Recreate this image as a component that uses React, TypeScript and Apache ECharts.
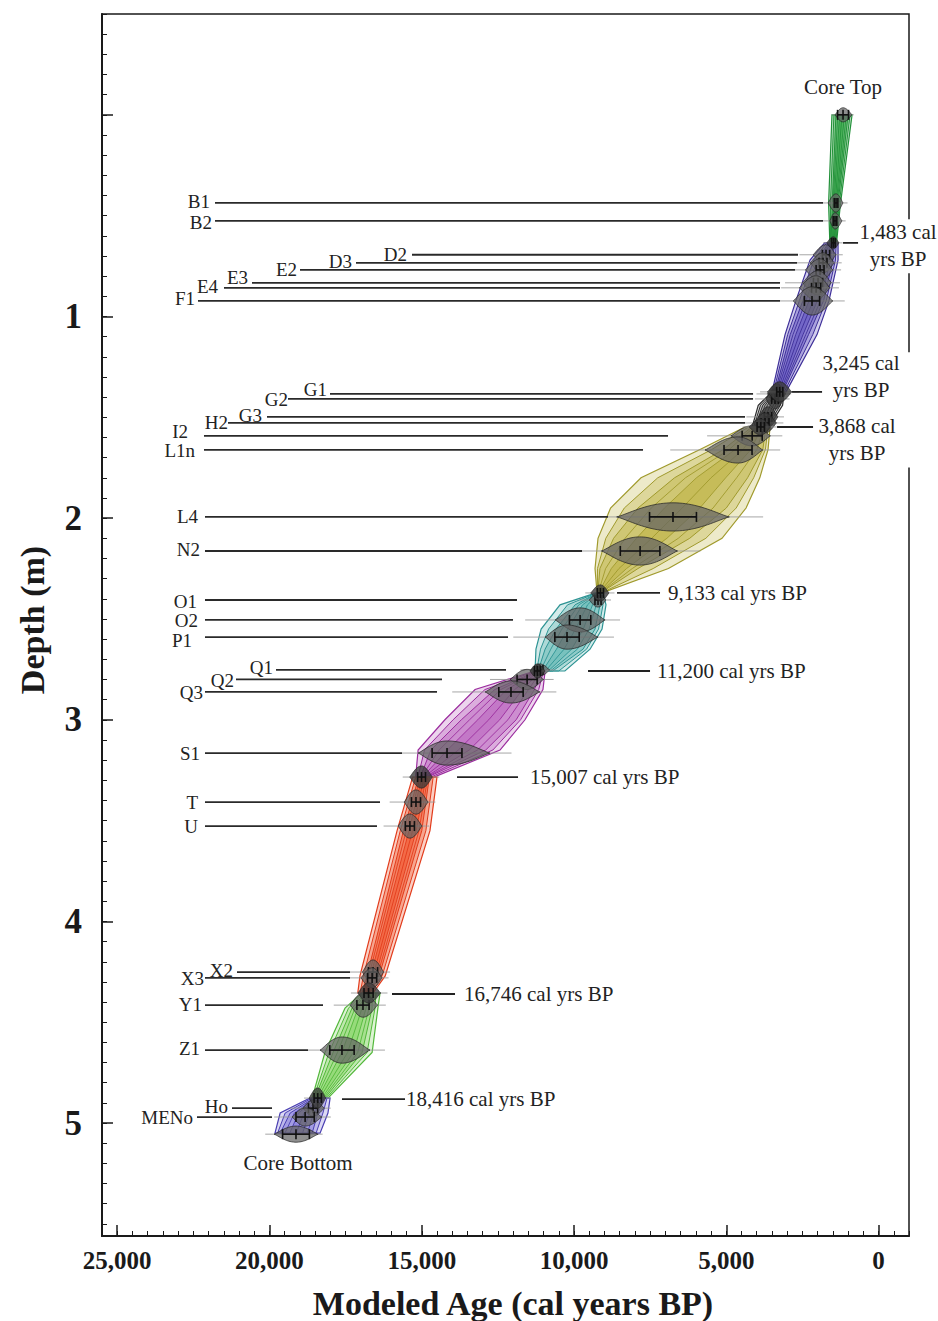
import React, { useEffect, useRef } from "react";
import * as echarts from "echarts";

const FONT = "'Liberation Serif','Times New Roman',serif";

// ---- axis ticks / labels ----
const depthTickValues = [0, 1, 2, 3, 4, 5];
const depthLabelValues = [1, 2, 3, 4, 5];
const ageTickValues = [0, 5000, 10000, 15000, 20000, 25000];

// ---- labelled samples ----
const sampleNames = ["B1","B2","D2","D3","E2","E3","E4","F1","G1","G2","G3","H2","I2","L1n","L4","N2","O1","O2","P1","Q1","Q2","Q3","S1","T","U","X2","X3","Y1","Z1","Ho","MENo"];
const sampleDepth = [0.437,0.526,0.694,0.734,0.769,0.833,0.858,0.923,1.384,1.409,1.498,1.528,1.592,1.662,1.994,2.163,2.406,2.505,2.59,2.753,2.8,2.862,3.165,3.408,3.527,4.251,4.28,4.415,4.638,4.926,4.97];
const sampleAge = [1396,1430,1725,1823,1920,1987,2050,2185,3333,3400,3630,3727,4150,4614,6750,7830,9212,9800,10230,11120,11540,12070,14170,15190,15390,16600,16630,16930,17620,18570,18830];
const sampleErr = [60,60,120,130,130,150,150,250,100,110,120,130,330,460,770,650,100,350,400,100,330,400,490,150,150,150,150,200,400,150,300];
const sampleOld = [1660,1600,2150,2250,2400,2500,2600,2800,3650,3700,3950,4100,4850,5700,8600,9100,9500,10620,10950,11400,12100,12920,15120,15580,15780,16950,17000,17350,18340,18900,19260];
const sampleYoung = [1166,1200,1400,1450,1500,1550,1600,1500,3050,3100,3300,3350,3550,3800,4900,6600,8950,8980,9210,10800,11000,11120,12760,14790,14990,16250,16300,16450,16700,18200,18280];
const sampleSpread = [0.045,0.04,0.05,0.05,0.055,0.06,0.06,0.07,0.05,0.05,0.05,0.05,0.05,0.065,0.07,0.07,0.035,0.06,0.06,0.03,0.05,0.055,0.06,0.06,0.06,0.06,0.05,0.06,0.065,0.04,0.045];
const labelDepth = [0.432,0.536,0.694,0.729,0.769,0.809,0.853,0.913,1.364,1.414,1.493,1.528,1.57,1.665,1.994,2.158,2.411,2.51,2.609,2.743,2.803,2.867,3.165,3.408,3.527,4.241,4.281,4.41,4.628,4.916,4.97];
const labelAge = [21954,21888,15484,17290,19097,20706,21691,22446,18111,19392,20246,21362,22676,22446,22348,22282,22381,22348,22545,19885,21165,22183,22282,22348,22348,21198,22151,22216,22282,21362,22512];
const lineStartAge = [21789,21789,15320,17159,18998,20574,21494,22348,18013,19392,20082,21362,22151,22151,22118,22118,22118,22118,22118,19786,21100,22118,22118,22118,22118,21067,22118,22118,22118,21231,22381];
const lineEndAge = [1823,1823,2644,2676,2742,3235,3235,3235,4121,4121,4384,4384,6913,7734,8883,9737,11872,12003,12167,12233,14335,14499,15648,16371,16470,17356,17356,18243,18735,19917,19917];

// ---- sequence boundaries ----
const boundaryText = ["1,483 cal\nyrs BP","3,245 cal\nyrs BP","3,868 cal\nyrs BP","9,133 cal yrs BP","11,200 cal yrs BP","15,007 cal yrs BP","16,746 cal yrs BP","18,416 cal yrs BP"];
const boundaryAge = [1483,3245,3868,9133,11200,15007,16746,18416];
const boundaryDepth = [0.635,1.374,1.548,2.371,2.758,3.284,4.355,4.876];
const boundaryErr = [60,100,120,100,100,130,150,120];
const boundaryOld = [1700,3650,4250,9450,11450,15400,17100,18700];
const boundaryYoung = [1300,2850,3550,8850,10950,14650,16350,18150];
const boundarySpread = [0.03,0.05,0.04,0.04,0.035,0.055,0.05,0.05];
const leaderDepth = [0.635,1.374,1.548,2.371,2.758,3.284,4.36,4.881];
const leaderFrom = [1166,2841,3333,8588,9540,13842,15977,17620];
const leaderTo = [673,1855,2151,7176,7504,11839,13908,15550];
const boundaryTextAge = [-641,575,706,6913,7274,11445,13613,15517];
const boundaryTextDepth = [0.647,1.297,1.61,2.371,2.758,3.284,4.36,4.881];

// ---- core ends ----
const coreNames = ["Core Top","Core Bottom"];
const coreDepth = [0.0,5.055];
const coreAge = [1166,19130];
const coreErr = [180,440];
const coreOld = [1430,19850];
const coreYoung = [870,18400];
const coreSpread = [0.035,0.04];
const coreLabelAge = [1166,19060];
const coreLabelDepth = [-0.139,5.198];

// ---- age-model envelopes: [depth, oldOuter, oldInner, youngInner, youngOuter] ----
const segCoreTop = [[0.0,1530,1400,1000,870],[0.44,1640,1520,1330,1250],[0.635,1600,1560,1420,1380]];
const segBlueUpper = [[0.635,1770,1650,1450,1330],[0.72,2250,2000,1500,1330],[0.92,2710,2480,1800,1625],[1.09,3070,2900,2300,2020],[1.374,3497,3400,3150,3037]];
const segGrayMid = [[1.374,3500,3400,3200,3100],[1.44,3950,3800,3300,3150],[1.548,4150,4050,3700,3600]];
const segOlive = [[1.548,4385,4154,3694,3563],[1.66,5862,5100,3800,3629],[1.8,7800,6700,4300,3900],[1.95,8800,7900,5000,4350],[2.1,9212,8700,6200,5140],[2.25,9310,9150,7900,6900],[2.371,9244,9220,9130,9080]];
const segTeal = [[2.371,9277,9230,9100,9047],[2.43,10460,9966,9146,8950],[2.55,11080,10590,9310,9080],[2.65,11250,10950,9704,9474],[2.758,11280,11180,10700,10300]];
const segPurple = [[2.758,11280,11210,11050,10950],[2.85,13250,12600,11300,11020],[3.0,14240,13700,11900,11610],[3.15,15120,14700,12900,12430],[3.284,15200,15050,14800,14600]];
const segRed = [[3.284,15300,15100,14750,14500],[3.55,15810,15600,15000,14730],[4.27,17030,16800,16400,16200],[4.355,17100,16950,16700,16600]];
const segGreenLower = [[4.355,16960,16860,16630,16370],[4.43,17520,17290,16630,16440],[4.65,18180,17910,16960,16630],[4.876,18600,18510,18180,18080]];
const segBlueLower = [[4.876,18670,18540,18210,18010],[4.95,19650,19320,18410,18080],[5.05,19820,19650,18600,18340]];

const segments = [segCoreTop, segBlueUpper, segGrayMid, segOlive, segTeal, segPurple, segRed, segGreenLower, segBlueLower];
const segStroke = ["#23913a","#3e2f99","#2b2b2b","#a09a2c","#2e9494","#9b2c9e","#e23c1c","#52b83a","#4a3fb2"];
const segFill = ["#3fae4f","#6a5cc4","#8a8a8a","#c2b84e","#6fbdb9","#bf6fc3","#f2603a","#8fd870","#8a82dc"];

const rgba = (hex: string, a: number) => {
  const n = parseInt(hex.slice(1), 16);
  return `rgba(${(n >> 16) & 255},${(n >> 8) & 255},${n & 255},${a})`;
};

const txt = (x: number, y: number, text: string, size: number, align: string, extra: any = {}) => ({
  type: "text",
  x,
  y,
  style: {
    text,
    fill: "#222",
    fontSize: size,
    fontFamily: FONT,
    align,
    textAlign: align,
    verticalAlign: "middle",
    textVerticalAlign: "middle",
    ...extra,
  },
});

const seg = (p: number[], q: number[], stroke: string, w: number) => ({
  type: "line",
  shape: { x1: p[0], y1: p[1], x2: q[0], y2: q[1] },
  style: { stroke, lineWidth: w },
});

function violin(api: any, depth: number, age: number, err: number, old: number, young: number, hh: number, tailOld: number, tailYoung: number, dark: boolean) {
  const P = (a: number, d: number) => api.coord([a, d]);
  const out: any[] = [];
  out.push(seg(P(tailOld, depth), P(tailYoung, depth), "rgba(150,150,150,0.85)", 1));
  const N = 36;
  const top: number[][] = [];
  const bot: number[][] = [];
  for (let k = 0; k <= N; k++) {
    const a = old + ((young - old) * k) / N;
    const u = a >= age ? (a - age) / Math.max(1, old - age) : (age - a) / Math.max(1, age - young);
    const h = hh * Math.pow(Math.max(0, 1 - u * u), 1.25);
    top.push(P(a, depth - h));
    bot.push(P(a, depth + h));
  }
  out.push({
    type: "polygon",
    shape: { points: top.concat(bot.reverse()) },
    style: { fill: dark ? "rgba(60,60,60,0.8)" : "rgba(100,100,100,0.72)", stroke: "rgba(35,35,35,0.9)", lineWidth: 0.8 },
  });
  const e1 = P(age + err, depth);
  const e2 = P(age - err, depth);
  const c = P(age, depth);
  out.push(seg(e1, e2, "#111", 1.6));
  [e1, e2, c].forEach((p) => out.push(seg([p[0], p[1] - 5], [p[0], p[1] + 5], "#111", 1.6)));
  return out;
}

// white masks behind the two-line boundary labels (they interrupt the frame)
function maskRect(i: number, t: number[]) {
  if (i === 0) return { x: t[0] - 42, y: t[1] - 26, width: 86, height: 54 };
  if (i === 1) return { x: t[0] - 45, y: t[1] - 24, width: 96, height: 60 };
  if (i === 2) return { x: t[0] - 45, y: t[1] - 28, width: 100, height: 56 };
  return null;
}

function buildOption() {
  const axisColor = "#1a1a1a";
  return {
    animation: false,
    backgroundColor: "#ffffff",
    grid: { left: 102, right: 29, top: 14, bottom: 85, show: true, borderColor: axisColor, borderWidth: 1.5 },
    xAxis: [
      {
        type: "value", min: -1000, max: 25500, interval: 500, inverse: true, position: "bottom",
        axisLine: { show: true, onZero: false, lineStyle: { color: axisColor, width: 2 } },
        axisTick: { show: true, inside: true, length: 5, lineStyle: { color: axisColor, width: 1 } },
        axisLabel: { show: false }, splitLine: { show: false },
      },
      {
        type: "value", min: -1000, max: 25500, inverse: true, position: "bottom",
        axisLine: { show: false, onZero: false },
        axisTick: { show: true, inside: true, length: 11, customValues: ageTickValues, lineStyle: { color: axisColor, width: 1.5 } },
        axisLabel: {
          show: true, customValues: ageTickValues, margin: 12, fontSize: 25, fontWeight: "bold", fontFamily: FONT, color: axisColor,
          formatter: (v: number) => String(v).replace(/\B(?=(\d{3})+(?!\d))/g, ","),
        },
        splitLine: { show: false },
      },
    ],
    yAxis: [
      {
        type: "value", min: -0.5, max: 5.56, interval: 0.1, inverse: true, position: "left",
        axisLine: { show: true, onZero: false, lineStyle: { color: axisColor, width: 2 } },
        axisTick: { show: true, inside: true, length: 5, lineStyle: { color: axisColor, width: 1 } },
        axisLabel: { show: false }, splitLine: { show: false },
      },
      {
        type: "value", min: -0.5, max: 5.56, inverse: true, position: "left", offset: 0,
        axisLine: { show: false, onZero: false },
        axisTick: { show: true, inside: true, length: 11, customValues: depthTickValues, lineStyle: { color: axisColor, width: 1.5 } },
        axisLabel: { show: true, customValues: depthLabelValues, margin: 20, fontSize: 35, fontWeight: "bold", fontFamily: FONT, color: axisColor },
        splitLine: { show: false },
      },
    ],
    graphic: [
      { type: "text", x: 32, y: 620, rotation: Math.PI / 2, style: { text: "Depth (m)", fontSize: 34, fontWeight: "bold", fontFamily: FONT, fill: axisColor, align: "center", textAlign: "center", verticalAlign: "middle", textVerticalAlign: "middle" } },
      { type: "text", x: 513, y: 1303, style: { text: "Modeled Age (cal years BP)", fontSize: 34, fontWeight: "bold", fontFamily: FONT, fill: axisColor, align: "center", textAlign: "center", verticalAlign: "middle", textVerticalAlign: "middle" } },
    ],
    series: [
      {
        type: "custom", name: "envelopes", clip: false, silent: true, z: 2,
        data: segments.map((s, i) => [s[0][1], s[0][0], i]),
        renderItem: (params: any, api: any) => {
          const i = api.value(2);
          const rows = segments[i];
          const P = (a: number, d: number) => api.coord([a, d]);
          const band = (fo: (r: number[]) => number, fy: (r: number[]) => number) =>
            rows.map((r) => P(fo(r), r[0])).concat(rows.slice().reverse().map((r) => P(fy(r), r[0])));
          const lerp = (a: number, b: number, t: number) => a + (b - a) * t;
          const st = segStroke[i];
          const fl = segFill[i];
          const children: any[] = [];
          children.push({ type: "polygon", shape: { points: band((r) => r[1], (r) => r[4]) }, style: { fill: rgba(fl, 0.3), stroke: st, lineWidth: 1.2 } });
          children.push({ type: "polygon", shape: { points: band((r) => (r[1] + r[2]) / 2, (r) => (r[3] + r[4]) / 2) }, style: { fill: rgba(fl, 0.38), stroke: st, lineWidth: 1 } });
          children.push({ type: "polygon", shape: { points: band((r) => r[2], (r) => r[3]) }, style: { fill: rgba(fl, 0.5), stroke: st, lineWidth: 1 } });
          children.push({ type: "polygon", shape: { points: band((r) => lerp(r[2], r[3], 0.3), (r) => lerp(r[2], r[3], 0.7)) }, style: { fill: rgba(fl, 0.7), stroke: st, lineWidth: 0.9 } });
          [0.15, 0.5, 0.85].forEach((t) => {
            children.push({ type: "polyline", shape: { points: rows.map((r) => P(lerp(r[2], r[3], t), r[0])) }, style: { stroke: st, lineWidth: 0.9, fill: "none" } });
          });
          return { type: "group", children };
        },
      },
      {
        type: "custom", name: "label lines", clip: false, silent: true, z: 3,
        data: sampleNames.map((n, i) => [sampleAge[i], sampleDepth[i], i]),
        renderItem: (params: any, api: any) => {
          const i = api.value(2);
          const a = api.coord([lineStartAge[i], sampleDepth[i]]);
          const b = api.coord([lineEndAge[i], sampleDepth[i]]);
          const t = api.coord([labelAge[i], labelDepth[i]]);
          return {
            type: "group",
            children: [seg(a, b, "#2a2a2a", 1.8), txt(t[0], t[1], sampleNames[i], 19, "right")],
          };
        },
      },
      {
        type: "custom", name: "samples", clip: false, silent: true, z: 4,
        data: sampleNames.map((n, i) => [sampleAge[i], sampleDepth[i], i]),
        renderItem: (params: any, api: any) => {
          const i = api.value(2);
          const range = sampleOld[i] - sampleYoung[i];
          const tailOld = Math.min(lineEndAge[i], sampleOld[i] + 0.6 * range);
          const tailYoung = sampleYoung[i] - 0.3 * range;
          const dark = sampleDepth[i] > 1.37 && sampleDepth[i] < 1.55;
          return { type: "group", children: violin(api, sampleDepth[i], sampleAge[i], sampleErr[i], sampleOld[i], sampleYoung[i], sampleSpread[i], tailOld, tailYoung, dark) };
        },
      },
      {
        type: "custom", name: "boundaries", clip: false, silent: true, z: 5,
        data: boundaryAge.map((a, i) => [a, boundaryDepth[i], i]),
        renderItem: (params: any, api: any) => {
          const i = api.value(2);
          const range = boundaryOld[i] - boundaryYoung[i];
          const children = violin(api, boundaryDepth[i], boundaryAge[i], boundaryErr[i], boundaryOld[i], boundaryYoung[i], boundarySpread[i], boundaryOld[i] + 0.3 * range, boundaryYoung[i] - 0.3 * range, true);
          return { type: "group", children };
        },
      },
      {
        type: "custom", name: "core ends", clip: false, silent: true, z: 5,
        data: coreNames.map((n, i) => [coreAge[i], coreDepth[i], i]),
        renderItem: (params: any, api: any) => {
          const i = api.value(2);
          const range = coreOld[i] - coreYoung[i];
          const children = violin(api, coreDepth[i], coreAge[i], coreErr[i], coreOld[i], coreYoung[i], coreSpread[i], coreOld[i] + 0.2 * range, coreYoung[i] - 0.1 * range, false);
          const t = api.coord([coreLabelAge[i], coreLabelDepth[i]]);
          children.push(txt(t[0], t[1], coreNames[i], 21, "center"));
          return { type: "group", children };
        },
      },
      {
        type: "custom", name: "boundary labels", clip: false, silent: true, z: 6,
        data: boundaryAge.map((a, i) => [a, boundaryDepth[i], i]),
        renderItem: (params: any, api: any) => {
          const i = api.value(2);
          const a = api.coord([leaderFrom[i], leaderDepth[i]]);
          const b = api.coord([leaderTo[i], leaderDepth[i]]);
          const t = api.coord([boundaryTextAge[i], boundaryTextDepth[i]]);
          const twoLine = boundaryText[i].indexOf("\n") >= 0;
          const children: any[] = [];
          const m = maskRect(i, t);
          if (m) children.push({ type: "rect", shape: m, style: { fill: "#ffffff" } });
          children.push(seg(a, b, "#222", 1.8));
          children.push(txt(t[0], t[1], boundaryText[i], 21, twoLine ? "center" : "left", { lineHeight: 27 }));
          return { type: "group", children };
        },
      },
    ],
  };
}

export default function App() {
  const ref = useRef<HTMLDivElement>(null);
  useEffect(() => {
    document.body.style.margin = "0";
    const chart = echarts.init(ref.current as HTMLDivElement, null, { renderer: "svg" });
    chart.setOption(buildOption() as any);
    return () => chart.dispose();
  }, []);
  return <div ref={ref} style={{ width: 938, height: 1321, background: "#fff" }} />;
}
